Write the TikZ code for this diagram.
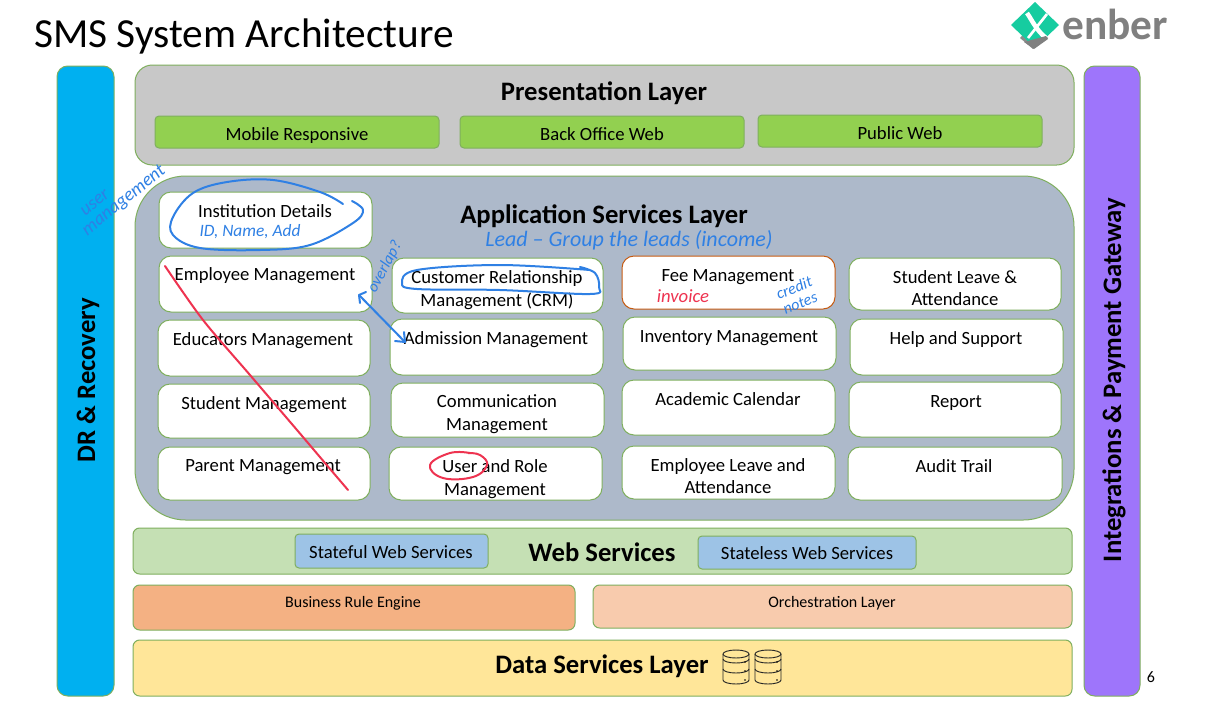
\documentclass[tikz,border=0pt]{standalone}
\usepackage{fontspec}
\setmainfont{Carlito}
\definecolor{edgegreen}{HTML}{7FAF5E}
\definecolor{inkblue}{HTML}{2F80E4}
\definecolor{inkred}{HTML}{EE3350}
\definecolor{drblue}{RGB}{0,176,240}
\definecolor{gatewaypurple}{RGB}{158,117,251}
\definecolor{presgray}{RGB}{200,200,200}
\definecolor{btngreen}{RGB}{146,208,80}
\definecolor{appslate}{RGB}{173,185,202}
\definecolor{feeorange}{RGB}{197,90,17}
\definecolor{webgreen}{RGB}{197,224,180}
\definecolor{webblue}{RGB}{157,195,230}
\definecolor{ruleorange}{RGB}{244,177,131}
\definecolor{orchpeach}{RGB}{248,203,173}
\definecolor{datayellow}{RGB}{255,230,153}
\definecolor{logoteal}{RGB}{22,204,160}
\tikzset{
  panel/.style={draw=edgegreen,line width=0.75pt,rounded corners=#1,inner sep=0pt,outer sep=0pt},
  panel/.default=9pt,
  tile/.style={panel=9pt,fill=white},
  btn/.style={panel=3pt,fill=#1},
  body/.style={font=\fontsize{14pt}{17pt}\selectfont,align=center,inner sep=0pt,text=black},
  small/.style={font=\fontsize{12pt}{14pt}\selectfont,align=center,inner sep=0pt},
  heading/.style={font=\fontsize{20pt}{24pt}\selectfont\bfseries,inner sep=0pt},
  ink/.style={draw=inkblue,line width=1.5pt,line cap=round,line join=round},
  redink/.style={draw=inkred,line width=1.5pt,line cap=round,line join=round},
  note/.style={font=\fontsize{#1}{#1}\selectfont\itshape,text=inkblue,inner sep=0pt},
  rednote/.style={font=\fontsize{#1}{#1}\selectfont\itshape,text=inkred,inner sep=0pt},
  dbline/.style={draw=black!85,line width=0.7pt}
}
% box from its corners, given in picture units
\newcommand{\boxfrom}[6]{%
  \node[#1,minimum width={(#5-#3)*0.75pt},minimum height={(#6-#4)*0.75pt}] (#2) at ({(#3+#5)/2},{(#4+#6)/2}) {};}
% one database drum with its top-left corner at the shifted origin
\newcommand{\drum}[1]{%
  \begin{scope}[shift={(#1,650)}]
    \draw[dbline] (0,4) arc[start angle=180,end angle=-180,x radius=13,y radius=4];
    \draw[dbline] (0,4) -- (0,30) arc[start angle=180,end angle=0,x radius=13,y radius=4] -- (26,4);
    \draw[dbline] (0,9) arc[start angle=180,end angle=0,x radius=13,y radius=4];
    \draw[dbline] (0,19) arc[start angle=180,end angle=0,x radius=13,y radius=4];
    \fill (22,12) circle[radius=0.9] (22,21) circle[radius=0.9] (22,30) circle[radius=0.9];
  \end{scope}}
\begin{document}
\begin{tikzpicture}[x=0.75pt,y=-0.75pt]
\useasboundingbox (0,0) rectangle (1213,708);
\fill[white] (0,0) rectangle (1213,708);

% title and logo
\node[font=\fontsize{31pt}{35pt}\selectfont,anchor=west,inner sep=0pt] (title) at (34,36) {SMS System Architecture};
\fill[black!45] (1033,24) -- (1048,38) -- (1033,49) -- (1020,38) -- cycle;
\fill[logoteal] (1035,2) -- (1059,25) -- (1035,48) -- (1011,25) -- cycle;
\draw[white,line width=3.4pt] (1027,13) .. controls (1032,20) and (1036,30) .. (1046,38);
\draw[white,line width=2pt] (1047,14) -- (1028,38);
\fill[black!50] (1024,42) -- (1046,36) -- (1048,39) -- (1034,49) -- cycle;
\node[font=\fontsize{32.5pt}{32.5pt}\selectfont\bfseries,text=black!50,anchor=west,inner sep=0pt] (logotext) at (1062,24) {enber};

% side bars
\boxfrom{panel=8pt,fill=drblue}{drbar}{57}{66}{114}{696}
\boxfrom{panel=8pt,fill=gatewaypurple}{gatewaybar}{1084}{66}{1140}{696}
\node[heading,rotate=90] (drlabel) at (88,380) {DR \& Recovery};
\node[heading,rotate=90] (gatewaylabel) at (1114,380) {Integrations \& Payment Gateway};

% presentation layer
\boxfrom{panel=13pt,fill=presgray}{presentation}{135}{65}{1074}{165}
\node[heading] (presentationlabel) at (604,93) {Presentation Layer};
\boxfrom{btn=btngreen}{mobile}{155}{116}{439}{148}
\boxfrom{btn=btngreen}{backoffice}{460}{116}{744}{148}
\boxfrom{btn=btngreen}{publicweb}{758}{115}{1042}{147}
\node[body] (mobilelabel) at (297,136) {Mobile Responsive};
\node[body] (backofficelabel) at (602,134) {Back Office Web};
\node[body] (publicweblabel) at (900,133) {Public Web};

% application services layer
\boxfrom{panel=38pt,fill=appslate}{appservices}{135}{176}{1074}{520}
\node[heading] (applabel) at (604,216) {Application Services Layer};
\boxfrom{tile}{institution}{159}{192}{372}{248}
\boxfrom{tile}{employee}{159}{256}{372}{312}
\boxfrom{tile}{crm}{392}{258}{603}{313}
\boxfrom{panel=9pt,fill=white,draw=feeorange}{fee}{622}{256}{835}{309}
\boxfrom{tile}{studentleave}{849}{258}{1061}{310}
\boxfrom{tile}{educators}{158}{320}{370}{376}
\boxfrom{tile}{admission}{390}{319}{603}{375}
\boxfrom{tile}{inventory}{623}{317}{836}{370}
\boxfrom{tile}{helpdesk}{850}{319}{1063}{375}
\boxfrom{tile}{student}{158}{384}{370}{438}
\boxfrom{tile}{communication}{391}{383}{604}{437}
\boxfrom{tile}{calendar}{622}{380}{835}{435}
\boxfrom{tile}{report}{849}{382}{1061}{437}
\boxfrom{tile}{parent}{158}{447}{370}{500}
\boxfrom{tile}{userrole}{389}{447}{602}{500}
\boxfrom{tile}{employeeleave}{622}{446}{835}{499}
\boxfrom{tile}{audit}{848}{447}{1062}{500}
\node[body] (institutionlabel) at (265,211) {Institution Details};
\node[body] (employeelabel) at (265,276) {Employee Management};
\node[body] (crmlabel) at (497,290) {Customer Relationship\\Management (CRM)};
\node[body] (feelabel) at (728,277) {Fee Management};
\node[body] (studentleavelabel) at (955,288) {Student Leave \&\\Attendance};
\node[body] (educatorslabel) at (263,341) {Educators Management};
\node[body] (admissionlabel) at (496,340) {Admission Management};
\node[body] (inventorylabel) at (729,338) {Inventory Management};
\node[body] (helpdesklabel) at (956,340) {Help and Support};
\node[body] (studentlabel) at (264,405) {Student Management};
\node[body] (communicationlabel) at (497,414) {Communication\\Management};
\node[body] (calendarlabel) at (728,399) {Academic Calendar};
\node[body] (reportlabel) at (956,403) {Report};
\node[body] (parentlabel) at (263,467) {Parent Management};
\node[body] (userrolelabel) at (495,479) {User and Role\\Management};
\node[body] (employeeleavelabel) at (728,476) {Employee Leave and\\Attendance};
\node[body] (auditlabel) at (954,466) {Audit Trail};

% web services band
\boxfrom{panel=5pt,fill=webgreen}{webservices}{133}{528}{1072}{574}
\node[heading] (weblabel) at (602,552) {Web Services};
\boxfrom{btn=webblue}{stateful}{295}{534}{488}{568}
\boxfrom{btn=webblue}{stateless}{698}{536}{916}{569}
\node[body] (statefullabel) at (391,552) {Stateful Web Services};
\node[body] (statelesslabel) at (807,553) {Stateless Web Services};

% engines
\boxfrom{panel=5pt,fill=ruleorange}{ruleengine}{133}{585}{575}{630}
\boxfrom{panel=5pt,fill=orchpeach}{orchestration}{593}{585}{1072}{628}
\node[small] (rulelabel) at (353,603) {Business Rule Engine};
\node[small] (orchlabel) at (832,603) {Orchestration Layer};

% data services
\boxfrom{panel=5pt,fill=datayellow}{dataservices}{133}{640}{1072}{696}
\node[heading] (datalabel) at (602,666) {Data Services Layer};
\drum{723}
\drum{755}

\node[font=\fontsize{12pt}{14pt}\selectfont,inner sep=0pt] (pagenumber) at (1151,677) {6};

% pen annotations
\draw[ink] plot[smooth,tension=0.6] coordinates {(343,204) (320,192) (273,180) (227,182) (193,193) (173,217) (173,235) (200,248) (260,250) (310,245) (353,223) (363,210) (352,201)};
\draw[ink] plot[smooth,tension=0.6] coordinates {(590,270) (500,265) (417,270) (402,283) (417,289) (500,290) (590,294) (599,287) (595,273) (580,267)};
\coordinate (overlapstart) at (359,295);
\coordinate (overlapend) at (405,342);
\draw[ink] (overlapstart) -- (overlapend);
\draw[ink] (366,292) -- (overlapstart) -- (360,303);
\draw[ink] (404,332) -- (overlapend) -- (395,341);
\draw[redink] plot[smooth,tension=0.5] coordinates {(165,266) (203,320) (250,375) (297,430) (325,463) (348,490)};
\draw[redink] plot[smooth,tension=0.7] coordinates {(470,453) (450,453) (430,465) (443,478) (473,477) (487,465) (480,455) (468,453)};
\node[note=13pt] (noteid) at (250,232) {ID, Name, Add};
\node[note=14pt,rotate=39] (noteuser) at (95,203) {user};
\node[note=14pt,rotate=39] (notemgmt) at (124,201) {management};
\node[note=12pt,rotate=62] (noteoverlap) at (385,267) {overlap?};
\node[note=16.5pt] (notelead) at (629,240) {Lead -- Group the leads (income)};
\node[rednote=14pt] (noteinvoice) at (683,296) {invoice};
\node[note=12pt,rotate=22,align=center] (notecredit) at (797,295) {credit\\notes};
\end{tikzpicture}
\end{document}
